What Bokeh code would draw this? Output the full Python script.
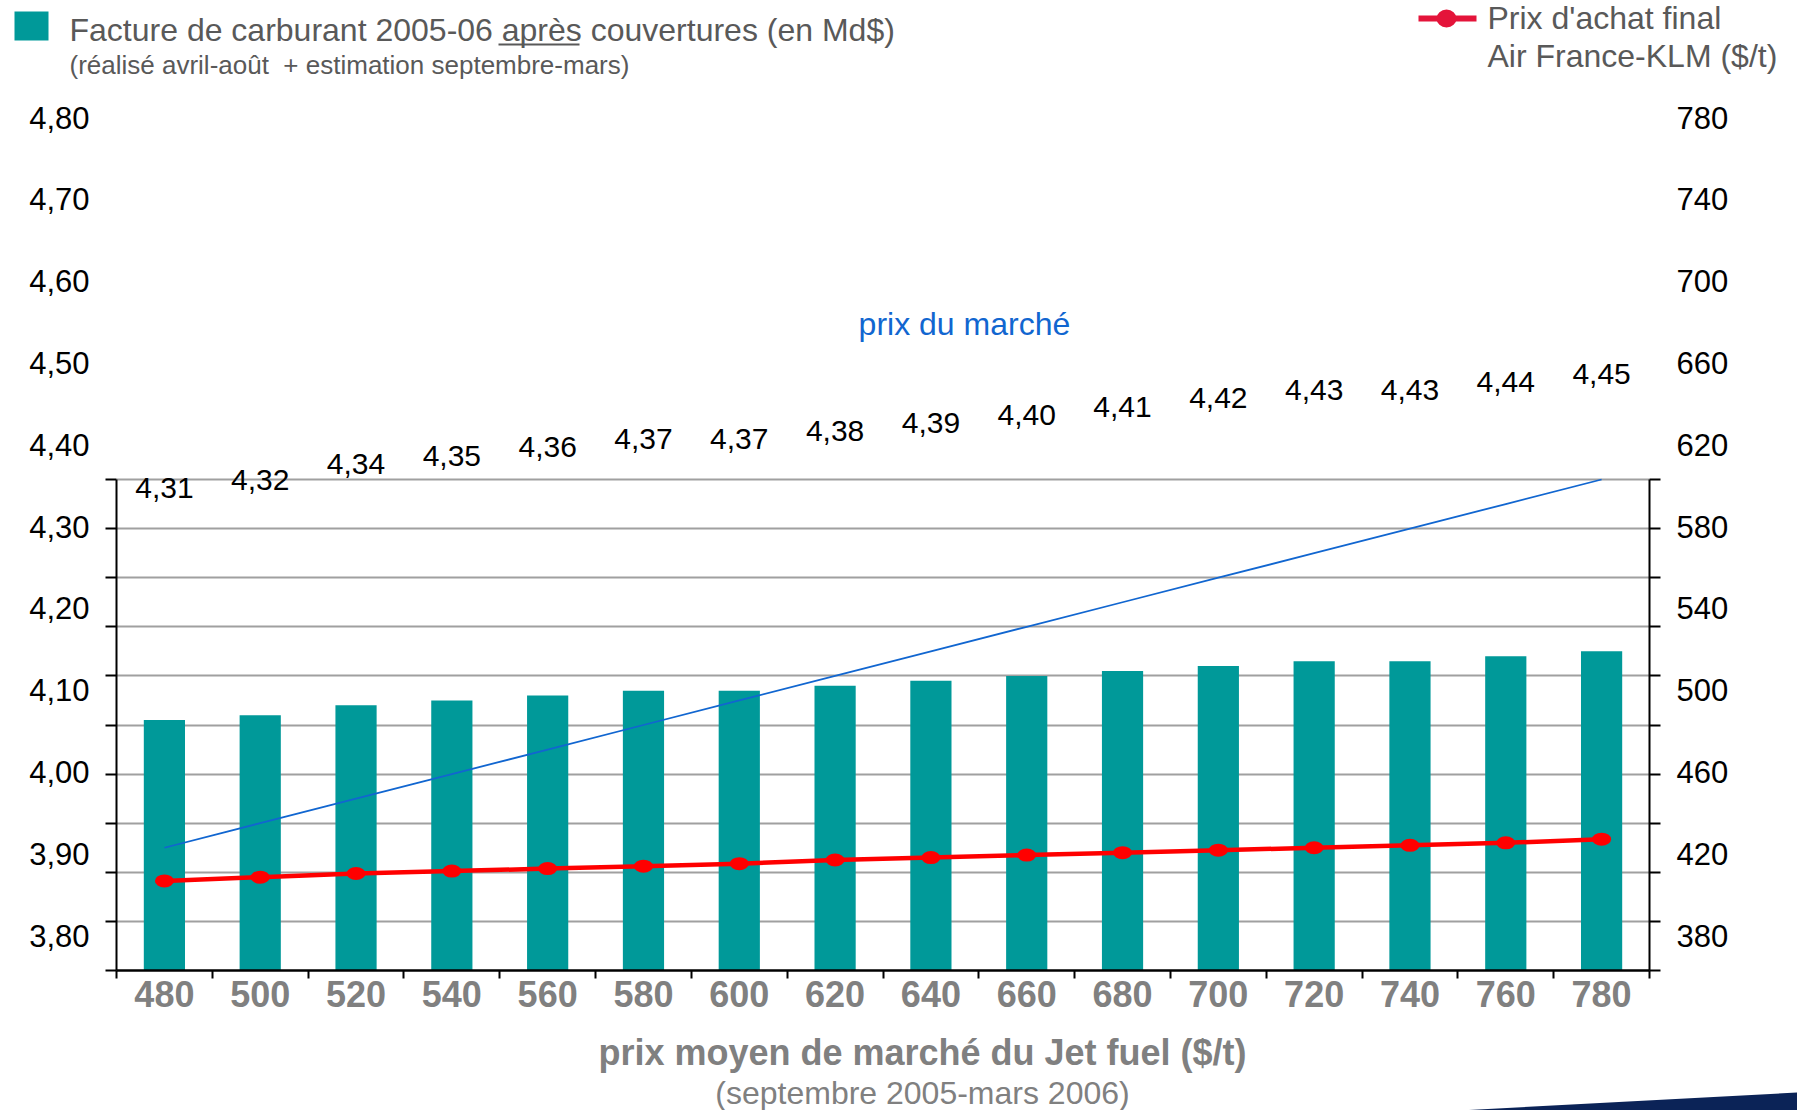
from bokeh.plotting import figure
from bokeh.layouts import column
from bokeh.models import (Range1d, LinearAxis, FixedTicker, CustomJSTickFormatter,
                          Grid, Label, ColumnDataSource)
from bokeh.embed import file_html
from bokeh.resources import INLINE
from bokeh.core.properties import value

# ---------------- data ----------------
prix_marche = [480, 500, 520, 540, 560, 580, 600, 620, 640, 660, 680, 700, 720, 740, 760, 780]
facture_mds = [4.31, 4.32, 4.34, 4.35, 4.36, 4.37, 4.37, 4.38, 4.39, 4.40, 4.41, 4.42, 4.43, 4.43, 4.44, 4.45]
prix_achat_afklm = [453, 456, 459, 461, 463, 465, 467, 470, 472, 474, 476, 478, 480, 482, 484, 487]
left_ticks = [3.80, 3.90, 4.00, 4.10, 4.20, 4.30, 4.40, 4.50, 4.60, 4.70, 4.80]
right_ticks = [380, 420, 460, 500, 540, 580, 620, 660, 700, 740, 780]
facture_labels = [f"{v:.2f}".replace(".", ",") for v in facture_mds]

FONT_S = "Liberation Sans"
FONT = value(FONT_S)

# ---------------- geometry (page pixels) ----------------
W, H = 1797, 1110
TOP_H, BOT_H = 90, 95
MAIN_H = H - TOP_H - BOT_H
FRAME_L, FRAME_R = 116, 1649
FRAME_TOP = 95
GRID_TOP, GRID_BOT = 479, 970
LAB_TOP, LAB_BOT = 117, 935


def rng(v_bot, v_top, p_bot, p_top):
    per_px = (v_top - v_bot) / (p_bot - p_top)
    start = v_bot - (GRID_BOT - p_bot) * per_px
    end = v_bot + (p_bot - FRAME_TOP) * per_px
    return start, end


def drop_grids(fig):
    fig.center = [r for r in fig.center if not isinstance(r, Grid)]


ly0, ly1 = rng(left_ticks[0], left_ticks[-1], GRID_BOT, GRID_TOP)
ry0, ry1 = rng(right_ticks[0], right_ticks[-1], GRID_BOT, GRID_TOP)
lly0, lly1 = rng(left_ticks[0], left_ticks[-1], LAB_BOT, LAB_TOP)
rly0, rly1 = rng(right_ticks[0], right_ticks[-1], LAB_BOT, LAB_TOP)

step = prix_marche[1] - prix_marche[0]
x0, x1 = prix_marche[0] - step / 2, prix_marche[-1] + step / 2

# ---------------- main chart ----------------
p = figure(width=W, height=MAIN_H, x_range=Range1d(x0, x1), y_range=Range1d(ly0, ly1),
           output_backend="svg", toolbar_location=None,
           x_axis_location=None, y_axis_location=None, frame_align=False,
           min_border_left=FRAME_L, min_border_right=W - FRAME_R,
           min_border_top=FRAME_TOP - TOP_H, min_border_bottom=TOP_H + MAIN_H - GRID_BOT)
p.outline_line_color = None
drop_grids(p)
p.extra_y_ranges = {"rframe": Range1d(ry0, ry1), "lab": Range1d(lly0, lly1),
                    "rlab": Range1d(rly0, rly1)}

p.add_layout(Grid(dimension=1, ticker=FixedTicker(ticks=left_ticks),
                  grid_line_color="#a0a0a0", grid_line_width=2))

blank = CustomJSTickFormatter(code="return ''")

# left frame axis (line + ticks)
lf = LinearAxis(ticker=FixedTicker(ticks=left_ticks), bounds=(left_ticks[0], left_ticks[-1]),
                formatter=blank,
                axis_line_width=2, major_tick_out=11, major_tick_in=0, major_tick_line_width=2,
                minor_tick_line_color=None, major_label_standoff=0)
p.add_layout(lf, "left")
# left labels axis
ll = LinearAxis(y_range_name="lab", ticker=FixedTicker(ticks=left_ticks),
                formatter=CustomJSTickFormatter(code="return tick.toFixed(2).replace('.', ',')"),
                axis_line_color=None, major_tick_line_color=None, minor_tick_line_color=None,
                major_tick_out=0, major_tick_in=0, major_label_standoff=16,
                major_label_text_font=FONT_S, major_label_text_font_size="31px",
                major_label_text_color="black")
p.add_layout(ll, "left")

# right frame axis
rf = LinearAxis(y_range_name="rframe", ticker=FixedTicker(ticks=right_ticks),
                bounds=(right_ticks[0], right_ticks[-1]), formatter=blank,
                axis_line_width=2, major_tick_out=11, major_tick_in=0, major_tick_line_width=2,
                minor_tick_line_color=None, major_label_standoff=0)
p.add_layout(rf, "right")
rl = LinearAxis(y_range_name="rlab", ticker=FixedTicker(ticks=right_ticks),
                axis_line_color=None, major_tick_line_color=None, minor_tick_line_color=None,
                major_tick_out=0, major_tick_in=0, major_label_standoff=16,
                major_label_text_font=FONT_S, major_label_text_font_size="31px",
                major_label_text_color="black")
p.add_layout(rl, "right")

# bottom axis
bounds_x = [c - step / 2 for c in prix_marche] + [prix_marche[-1] + step / 2]
bx = LinearAxis(ticker=FixedTicker(ticks=prix_marche, minor_ticks=bounds_x),
                axis_line_width=2.5, major_tick_out=0, major_tick_in=0,
                minor_tick_out=8, minor_tick_in=0, minor_tick_line_width=2,
                minor_tick_line_color="black", major_label_standoff=2,
                major_label_text_font=FONT_S, major_label_text_font_size="36px",
                major_label_text_font_style="bold", major_label_text_color="#808080")
p.add_layout(bx, "below")

src = ColumnDataSource(dict(x=prix_marche, fac=facture_mds, lab=facture_labels,
                            achat=prix_achat_afklm, marche=prix_marche))
p.vbar(x="x", top="fac", bottom=left_ticks[0], width=step * 0.43, source=src,
       fill_color="#009999", line_color=None)
p.line(x="x", y="marche", source=src, y_range_name="rframe", line_color="#1166d0",
       line_width=1.8)
p.line(x="x", y="achat", source=src, y_range_name="rframe", line_color="#ff0000",
       line_width=4.5)
p.ellipse(x="x", y="achat", source=src, y_range_name="rframe", width=19, height=13,
          width_units="screen", height_units="screen", fill_color="#ff0000", line_color=None)
p.text(x="x", y="fac", text="lab", source=src, y_range_name="lab", y_offset=-30,
       text_font=FONT, text_font_size="30px", text_color="black",
       text_align="center", text_baseline="middle")
p.add_layout(Label(x=647, y=4.547, y_range_name="lab", text="prix du marché",
                   text_font=FONT_S, text_font_size="32px", text_color="#1166d0",
                   text_align="center", text_baseline="middle"))

# ---------------- top legend ----------------
t = figure(width=W, height=TOP_H, x_range=Range1d(0, W), y_range=Range1d(TOP_H, 0),
           output_backend="svg", toolbar_location=None, frame_align=False,
           min_border=0, min_border_left=0, min_border_right=0,
           min_border_top=0, min_border_bottom=0,
           x_axis_location=None, y_axis_location=None)
t.outline_line_color = None
drop_grids(t)
t.quad(left=[14], right=[48], top=[11], bottom=[40], fill_color="#009999", line_color=None)
t.text(x=[69], y=[29], text=["Facture de carburant 2005-06 après couvertures (en Md$)"],
       text_font=FONT, text_font_size="32px", text_color="#595959", text_baseline="middle")
t.segment(x0=[498], y0=[44], x1=[579], y1=[44], line_color="#595959", line_width=2)
t.text(x=[69], y=[64], text=["(réalisé avril-août \u00a0+ estimation septembre-mars)"],
       text_font=FONT, text_font_size="26px", text_color="#595959", text_baseline="middle")
t.segment(x0=[1418], y0=[18], x1=[1476], y1=[18], line_color="#e4143a", line_width=6)
t.ellipse(x=[1446], y=[18], width=[20], height=[18], width_units="screen",
          height_units="screen", fill_color="#e4143a", line_color=None)
t.text(x=[1487, 1487], y=[17, 55], text=["Prix d'achat final", "Air France-KLM ($/t)"],
       text_font=FONT, text_font_size="32px", text_color="#595959", text_baseline="middle")

# ---------------- bottom titles ----------------
b = figure(width=W, height=BOT_H, x_range=Range1d(0, W), y_range=Range1d(BOT_H, 0),
           output_backend="svg", toolbar_location=None, frame_align=False,
           min_border=0, min_border_left=0, min_border_right=0,
           min_border_top=0, min_border_bottom=0,
           x_axis_location=None, y_axis_location=None)
b.outline_line_color = None
drop_grids(b)
b.text(x=[922], y=[37], text=["prix moyen de marché du Jet fuel ($/t)"],
       text_font=FONT, text_font_size="36px", text_font_style="bold", text_color="#808080",
       text_align="center", text_baseline="middle")
b.text(x=[922], y=[77], text=["(septembre 2005-mars 2006)"],
       text_font=FONT, text_font_size="32px", text_color="#808080",
       text_align="center", text_baseline="middle")
b.patch(x=[1459, 1797, 1797], y=[95, 77, 95], fill_color="#0b2357", line_color=None)

layout = column(t, p, b, spacing=0)
open("out.html", "w").write(file_html(layout, INLINE))
